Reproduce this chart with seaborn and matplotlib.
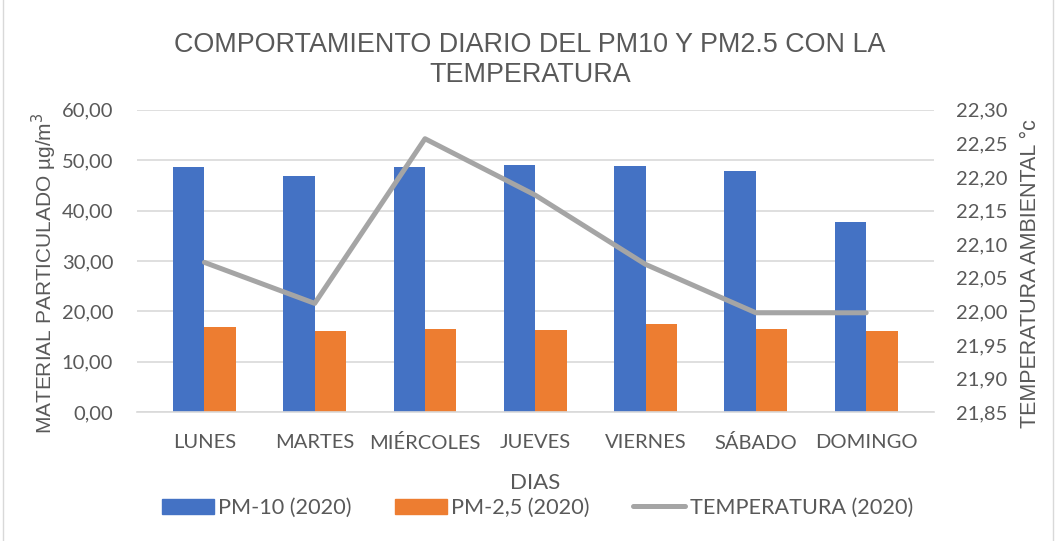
import pandas as pd
import matplotlib.pyplot as plt
import seaborn as sns
from matplotlib.patches import Patch, Rectangle
from matplotlib.lines import Line2D
from matplotlib.ticker import FuncFormatter

dias = ["LUNES", "MARTES", "MIÉRCOLES", "JUEVES", "VIERNES", "SÁBADO", "DOMINGO"]
pm10 = [48.7, 46.8, 48.6, 49.1, 48.8, 47.8, 37.8]
pm25 = [16.9, 16.2, 16.5, 16.4, 17.6, 16.6, 16.1]
temperatura = [22.073, 22.012, 22.257, 22.173, 22.070, 21.998, 21.998]

series = ["PM-10 (2020)", "PM-2,5 (2020)"]
colors = ["#4472C4", "#ED7D31"]
gris_linea = "#A5A5A5"
gris_texto = "#595959"
fuente_ticks = ["Lato", "DejaVu Sans"]

sns.set_theme(style="white")
plt.rcParams["font.family"] = ["Liberation Sans", "DejaVu Sans"]

df = pd.DataFrame({
    "dia": dias * 2,
    "valor": pm10 + pm25,
    "serie": [series[0]] * len(dias) + [series[1]] * len(dias)
})
df_temp = pd.DataFrame({"dia": dias, "temp": temperatura})

fig = plt.figure(figsize=(10.6, 5.41), dpi=100)
ax = fig.add_axes([0.129, 0.238, 0.752, 0.559])

sns.barplot(
    data=df, x="dia", y="valor", hue="serie",
    palette=colors, saturation=1, width=0.57, linewidth=0, ax=ax, legend=False
)

fmt = FuncFormatter(lambda v, p: f"{v:.2f}".replace(".", ","))

ax.set_ylim(0, 60)
ax.set_yticks(range(0, 61, 10))
ax.yaxis.set_major_formatter(fmt)
ax.grid(axis="y", color="#D9D9D9", lw=1.2)
ax.set_axisbelow(True)
for s in ["left", "right", "top"]:
    ax.spines[s].set_visible(False)
ax.spines["bottom"].set_color("#D9D9D9")
ax.spines["bottom"].set_linewidth(1.2)
ax.tick_params(axis="both", length=0, colors=gris_texto, labelsize=14.5)
ax.tick_params(axis="x", pad=16)
ax.tick_params(axis="y", pad=17)
for lbl in ax.get_xticklabels() + ax.get_yticklabels():
    lbl.set_family(fuente_ticks)
ax.set_xlabel("DIAS", fontsize=16, color=gris_texto, family=fuente_ticks)
ax.xaxis.set_label_coords(0.5, -0.2)
ax.set_ylabel("MATERIAL PARTICULADO µg/m$^3$", fontsize=15, color=gris_texto)
ax.yaxis.set_label_coords(-0.097, 0.46)

ax2 = ax.twinx()
sns.lineplot(data=df_temp, x="dia", y="temp", color=gris_linea, lw=3.6, ax=ax2, sort=False)
ax2.set_ylim(21.85, 22.30)
ax2.set_yticks([21.85 + 0.05 * i for i in range(10)])
ax2.yaxis.set_major_formatter(fmt)
for s in ["left", "right", "top", "bottom"]:
    ax2.spines[s].set_visible(False)
ax2.tick_params(axis="y", length=0, colors=gris_texto, labelsize=14.5, pad=16)
for lbl in ax2.get_yticklabels():
    lbl.set_family(fuente_ticks)
ax2.set_ylabel("TEMPERATURA AMBIENTAL °c", fontsize=15.5, color=gris_texto)
ax2.yaxis.set_label_coords(1.108, 0.46)
ax2.set_xlim(ax.get_xlim())

fig.suptitle("COMPORTAMIENTO DIARIO DEL PM10 Y PM2.5 CON LA\nTEMPERATURA",
             x=0.5, y=0.94, fontsize=19.4, color=gris_texto, linespacing=1.2)

handles = [
    Patch(color=colors[0], label=series[0]),
    Patch(color=colors[1], label=series[1]),
    Line2D([0], [0], color=gris_linea, lw=3.6, label="TEMPERATURA (2020)"),
]
leg = fig.legend(handles=handles, loc="center", bbox_to_anchor=(0.507, 0.061), ncol=3,
                 frameon=False, handlelength=2.4, handleheight=0.7, columnspacing=2.0,
                 handletextpad=0.2, prop={"family": fuente_ticks, "size": 15.6})
for t in leg.get_texts():
    t.set_color(gris_texto)

fig.patches.append(Rectangle((0.003, -0.01), 0.99, 1.02, transform=fig.transFigure,
                             fill=False, edgecolor="#D9D9D9", lw=1))

fig.savefig("out.png", dpi=100)
